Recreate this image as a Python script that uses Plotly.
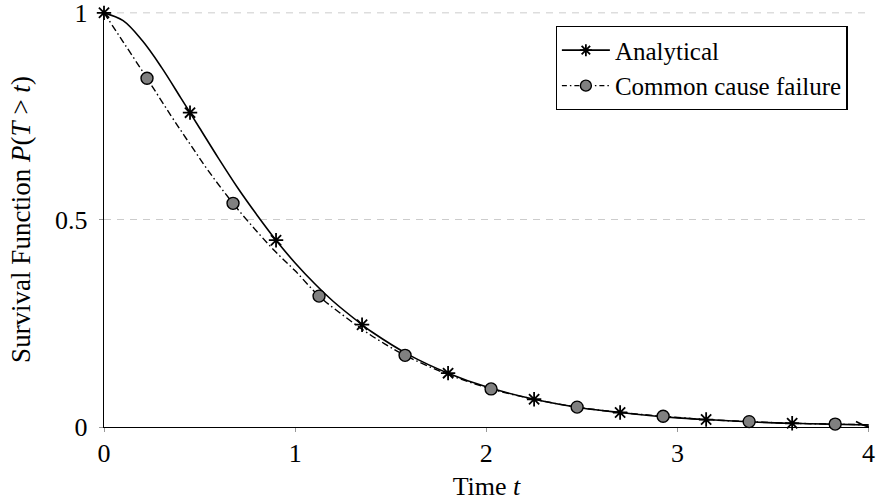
import plotly.graph_objects as go

# ---- data ----
anal_t = [0.0, 0.1, 0.2, 0.3, 0.4, 0.45, 0.5, 0.6, 0.7, 0.8, 0.9, 1.0, 1.1, 1.2, 1.35,
          1.4, 1.6, 1.8, 2.0, 2.25, 2.5, 2.7, 3.0, 3.15, 3.4, 3.6, 3.8, 4.0]
anal_s = [1.000, 0.981, 0.933, 0.869, 0.796, 0.759, 0.722, 0.648, 0.577, 0.512, 0.451, 0.396,
          0.347, 0.303, 0.247, 0.230, 0.173, 0.130, 0.097, 0.067, 0.046, 0.035, 0.022, 0.018,
          0.012, 0.009, 0.007, 0.005]
anal_mark_t = [0.0, 0.45, 0.9, 1.35, 1.8, 2.25, 2.7, 3.15, 3.6]
anal_mark_s = [1.000, 0.759, 0.451, 0.247, 0.130, 0.067, 0.035, 0.018, 0.009]

ccf_t = [0.0, 0.1, 0.225, 0.35, 0.45, 0.55, 0.675, 0.8, 0.9, 1.0, 1.125, 1.25, 1.35, 1.45,
         1.575, 1.8, 2.025, 2.25, 2.475, 2.7, 2.925, 3.15, 3.375, 3.6, 3.825, 4.0]
ccf_s = [1.000, 0.930, 0.842, 0.752, 0.683, 0.616, 0.540, 0.472, 0.422, 0.377, 0.316, 0.270,
         0.236, 0.206, 0.173, 0.127, 0.092, 0.067, 0.048, 0.035, 0.026, 0.018, 0.013, 0.009,
         0.007, 0.005]
ccf_mark_t = [0.225, 0.675, 1.125, 1.575, 2.025, 2.475, 2.925, 3.375, 3.825]
ccf_mark_s = [0.842, 0.540, 0.316, 0.173, 0.092, 0.048, 0.026, 0.013, 0.007]

series_names = ["Analytical", "Common cause failure"]
x_ticks = [0, 1, 2, 3, 4]
x_ticktext = ["0", "1", "2", "3", "4"]
y_ticks = [0, 0.5, 1]
y_ticktext = ["0", "0.5", "1"]

FONT = "Liberation Serif, DejaVu Serif, serif"
FS = 26

anal_line = dict(color="black", width=1.6)
ccf_line = dict(color="black", width=1.4, dash="7px,3px,1.5px,3px")
anal_marker = dict(symbol="asterisk-open", size=12, color="black",
                   line=dict(color="black", width=1.8))
ccf_marker = dict(symbol="circle", size=12, color="#808080",
                  line=dict(color="black", width=1.4))

fig = go.Figure()
fig.add_trace(go.Scatter(x=anal_t, y=anal_s, mode="lines", line=dict(**anal_line, shape="spline"),
                         showlegend=False, cliponaxis=False, hoverinfo="skip"))
fig.add_trace(go.Scatter(x=ccf_t, y=ccf_s, mode="lines", line=dict(**ccf_line, shape="spline"),
                         showlegend=False, cliponaxis=False, hoverinfo="skip"))
fig.add_trace(go.Scatter(x=anal_mark_t, y=anal_mark_s, mode="markers", marker=anal_marker,
                         showlegend=False, cliponaxis=False))
fig.add_trace(go.Scatter(x=ccf_mark_t, y=ccf_mark_s, mode="markers", marker=ccf_marker,
                         showlegend=False, cliponaxis=False))
# legend entries
fig.add_trace(go.Scatter(x=[None], y=[None], mode="lines+markers", name=series_names[0],
                         line=anal_line, marker=dict(anal_marker, size=10)))
fig.add_trace(go.Scatter(x=[None], y=[None], mode="lines+markers", name=series_names[1],
                         line=dict(color="black", width=1.4, dash="5px,3px,1.5px,3px"),
                         marker=dict(ccf_marker, size=11)))

# top grid line (y = 1), dashed like the other grid lines
fig.add_shape(type="line", xref="paper", yref="y", x0=0, x1=1, y0=y_ticks[-1], y1=y_ticks[-1],
              line=dict(color="#cccccc", width=1, dash="7px,6px"), layer="below")

# arrow head at end of x-axis
fig.add_shape(type="path", xref="x", yref="y", xsizemode="pixel", ysizemode="pixel",
              xanchor=4.002, yanchor=0,
              path="M -13,5.5 Q -6,1.5 0,0 Q -6,-1.5 -13,-5.5",
              line=dict(color="black", width=1.6))

fig.update_layout(
    width=876, height=501,
    margin=dict(l=104, r=7, t=12, b=74),
    paper_bgcolor="white", plot_bgcolor="white",
    font=dict(family=FONT, size=FS, color="black"),
    showlegend=True,
    legend=dict(x=0.972, y=0.966, xanchor="right", yanchor="top",
                bgcolor="white", bordercolor="black", borderwidth=1.3,
                font=dict(family=FONT, size=25, color="black"),
                tracegroupgap=0, itemwidth=48),
    xaxis=dict(range=[0, 4.002], tickvals=x_ticks, ticktext=x_ticktext,
               showline=True, linecolor="black", linewidth=1.4,
               showgrid=False, zeroline=False, ticks="outside", ticklen=4,
               tickcolor="#999", tickwidth=1, layer="below traces",
               ticklabeloverflow="allow", ticklabelstandoff=-1, automargin=False,
               title=dict(text="Time <i>t</i>", standoff=9,
                          font=dict(family=FONT, size=FS))),
    yaxis=dict(range=[0, 1.002], tickvals=y_ticks, ticktext=y_ticktext,
               showline=True, linecolor="black", linewidth=1.4,
               showgrid=True, gridcolor="#cccccc", griddash="7px,6px", gridwidth=1,
               zeroline=False, ticks="outside", ticklen=4,
               tickcolor="#999", tickwidth=1, layer="below traces",
               ticklabeloverflow="allow", ticklabelstandoff=6, automargin=False,
               title=dict(text="Survival Function <i>P</i>(<i>T</i> > <i>t</i>)", standoff=16,
                          font=dict(family=FONT, size=27))),
)

fig.write_html("out.html")
